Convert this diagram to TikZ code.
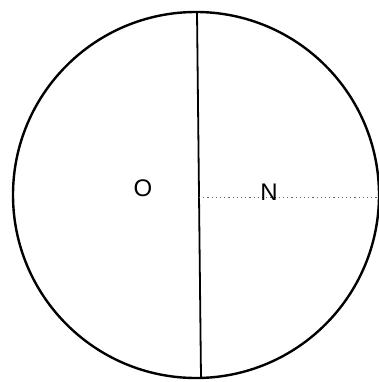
\documentclass[tikz,border=0pt]{standalone}
\usepackage{fontspec}
\setmainfont{Liberation Sans}
\begin{document}
\begin{tikzpicture}[x=1pt,y=-1pt,
  outline/.style={line width=2.4pt,draw=black},
  axisline/.style={line width=1.8pt,draw=black},
  radline/.style={line width=0.9pt,draw=black!60,dash pattern=on 1.2pt off 3pt},
  lbl/.style={font=\fontsize{24}{24}\selectfont,inner sep=0pt}]
\useasboundingbox (0,0) rectangle (379,382);
\coordinate (c) at (196,195);
\draw[outline] (c) circle[radius=183];
\coordinate (top) at (197,12);
\coordinate (bot) at (201,378);
\draw[axisline] (top) -- (bot);
\coordinate (ctr) at (199,197);
\coordinate (edge) at (379,197);
\draw[radline] (ctr) -- (edge);
\node[lbl] (O) at (143,188) {O};
\node[lbl] (N) at (269,192) {N};
\end{tikzpicture}
\end{document}
